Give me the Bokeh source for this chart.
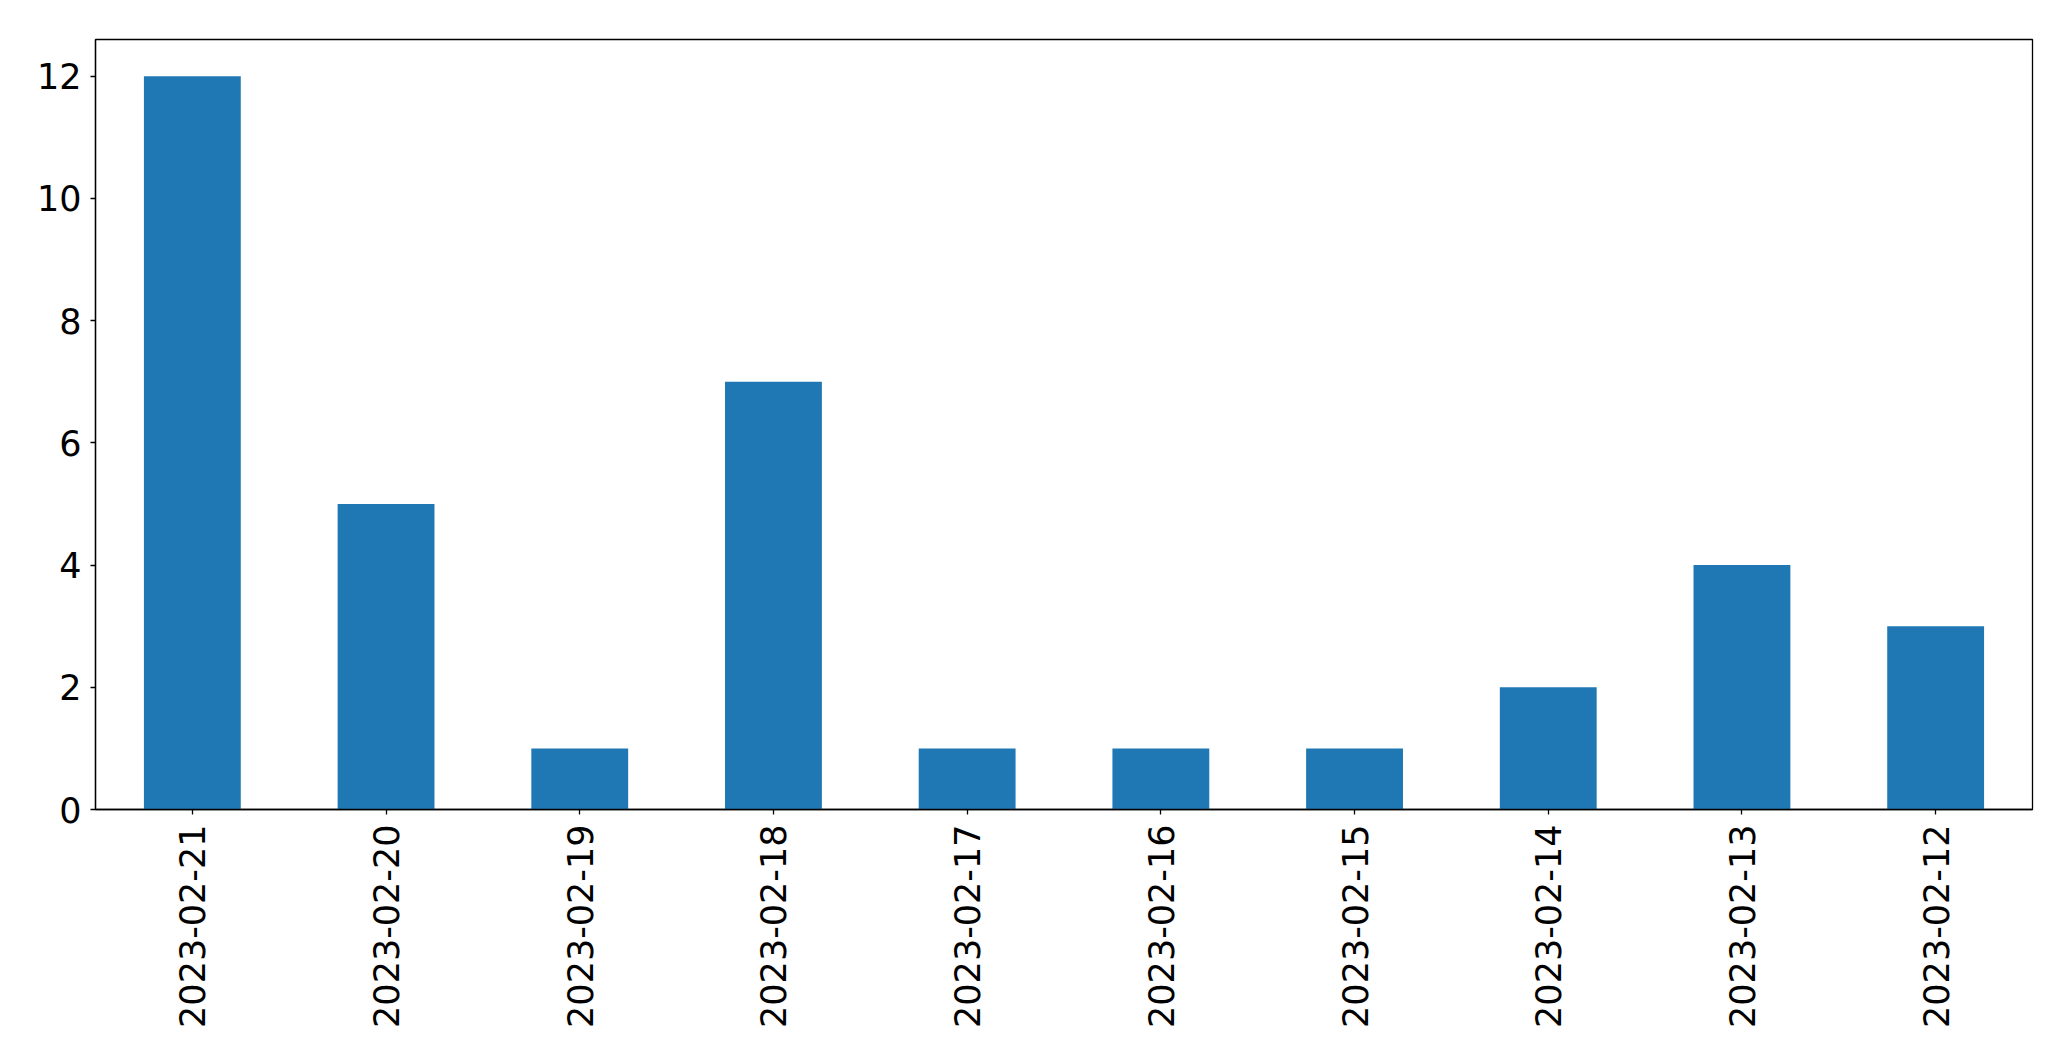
from bokeh.plotting import figure
from bokeh.models import FactorRange, Range1d, FixedTicker, ColumnDataSource
from bokeh.embed import file_html
from bokeh.resources import INLINE
import math

dates = ["2023-02-21", "2023-02-20", "2023-02-19", "2023-02-18", "2023-02-17",
         "2023-02-16", "2023-02-15", "2023-02-14", "2023-02-13", "2023-02-12"]
counts = [12, 5, 1, 7, 1, 1, 1, 2, 4, 3]
y_ticks = [0, 2, 4, 6, 8, 10, 12]

W, H = 2060, 1050
p = figure(width=W, height=H, x_range=FactorRange(*dates, range_padding=0),
           y_range=Range1d(0, 12.6), output_backend="svg", toolbar_location=None,
           min_border_left=95, min_border_top=39, min_border_right=W - 2032,
           min_border_bottom=H - 809)

src = ColumnDataSource(dict(x=dates, y=counts))
p.vbar(x="x", top="y", width=0.5, source=src, fill_color="#1f77b4", line_color=None)

p.xgrid.visible = False
p.ygrid.visible = False
p.outline_line_color = "black"
p.outline_line_width = 1.3
p.outline_line_alpha = 1

for ax in (p.xaxis[0], p.yaxis[0]):
    ax.axis_line_color = "black"
    ax.axis_line_width = 1.3
    ax.major_tick_line_color = "black"
    ax.major_tick_line_width = 1.3
    ax.major_tick_out = 5
    ax.major_tick_in = 0
    ax.minor_tick_line_color = None
    ax.major_label_text_font = "DejaVu Sans"
    ax.major_label_text_font_size = "35px"
    ax.major_label_text_color = "black"

p.yaxis[0].ticker = FixedTicker(ticks=y_ticks)
p.yaxis[0].major_label_standoff = 9
p.xaxis[0].major_label_orientation = math.pi / 2
p.xaxis[0].major_label_standoff = 10
p.xaxis[0].group_text_font_size = "0px"

open("out.html", "w").write(file_html(p, INLINE))
